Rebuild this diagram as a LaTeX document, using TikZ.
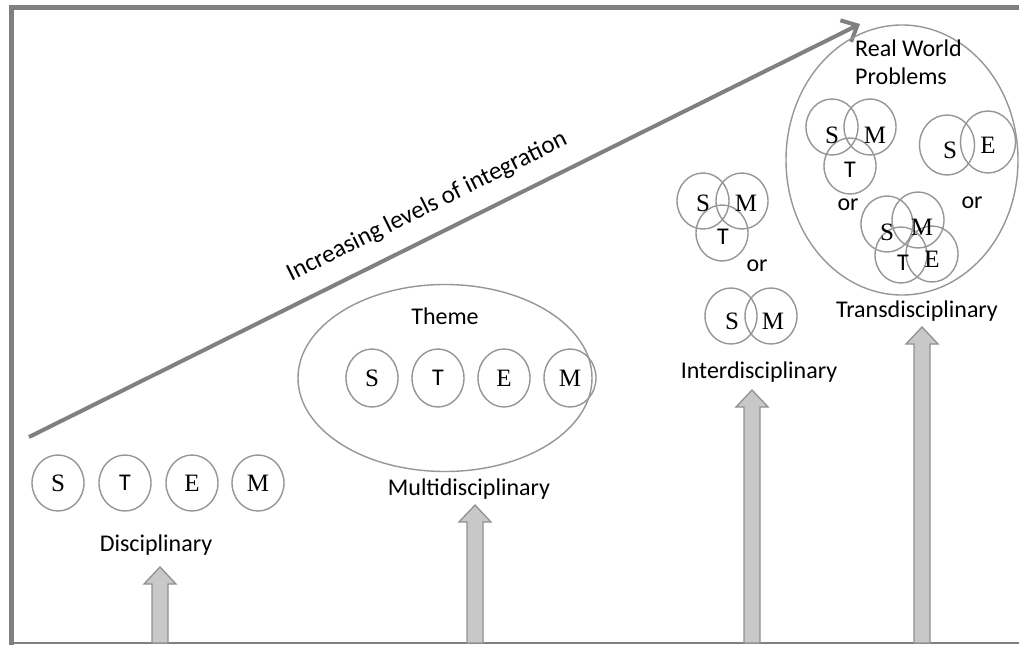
\documentclass[tikz,border=0pt]{standalone}
\usepackage{fontspec}
\setmainfont{Carlito}
\newfontfamily\tnr{Liberation Serif}
\usetikzlibrary{arrows.meta,shapes.geometric}
\definecolor{framegray}{RGB}{128,128,128}
\definecolor{ringgray}{RGB}{150,150,150}
\definecolor{arrowfill}{RGB}{200,200,200}
\definecolor{arrowedge}{RGB}{145,145,145}
\tikzset{
  ring/.style={draw=ringgray, line width=1.4pt, ellipse, inner sep=0pt,
    minimum width=52pt, minimum height=56pt},
  bigring/.style={draw=ringgray, line width=1.4pt, ellipse, inner sep=0pt},
  letter/.style={font=\fontsize{25}{25}\selectfont\tnr, inner sep=0pt},
  sletter/.style={font=\fontsize{24}{24}\selectfont, inner sep=0pt},
  caption/.style={font=\fontsize{24}{28}\selectfont, inner sep=0pt},
  blockarrow/.style={fill=arrowfill, draw=arrowedge, line width=1.3pt, line join=miter},
}
% upward block arrow: centre x, tip y, base y
\newcommand{\uparrowblock}[3]{%
  \draw[blockarrow] (#1-8,#3) -- (#1-8,#2+17) -- (#1-16,#2+17) -- (#1,#2)
    -- (#1+16,#2+17) -- (#1+8,#2+17) -- (#1+8,#3) -- cycle;}
\begin{document}
\begin{tikzpicture}[x=1pt,y=-1pt]
\useasboundingbox (0,0) rectangle (1019,645);
\fill[white] (0,0) rectangle (1019,645);

% frame
\draw[framegray, line width=5pt] (11.5,645) -- (11.5,7.5) -- (1019,7.5);
\draw[framegray, line width=1.6pt] (14,643.2) -- (1019,643.2);

% block arrows from the bottom edge
\uparrowblock{160}{567}{643}
\uparrowblock{475}{505}{643}
\uparrowblock{752}{390}{643}
\uparrowblock{922}{327}{643}

% rising arrow
\coordinate (rise0) at (29,437);
\coordinate (rise1) at (860,24);
\draw[framegray, line width=4pt, -{Straight Barb[length=13pt,width=24pt,line width=4pt]}] (rise0) -- (rise1);
\node[caption, rotate=26.4, font=\fontsize{25}{28}\selectfont] (risetxt) at (427,207) {Increasing levels of integration};

% disciplinary
\node[ring] (dS) at (58,483) {};
\node[ring] (dT) at (125,483) {};
\node[ring] (dE) at (192,483) {};
\node[ring] (dM) at (258,483) {};
\node[letter] (dSl) at (dS) {S};
\node[sletter] (dTl) at (dT) {T};
\node[letter] (dEl) at (dE) {E};
\node[letter] (dMl) at (dM) {M};
\node[caption] (disc) at (156,545) {Disciplinary};

% multidisciplinary
\node[bigring, minimum width=294pt, minimum height=187pt] (theme) at (445,378) {};
\node[caption] (themetxt) at (445,316) {Theme};
\node[ring, minimum height=58pt] (mS) at (372,378) {};
\node[ring, minimum height=58pt] (mT) at (438,378) {};
\node[ring, minimum height=58pt] (mE) at (504,378) {};
\node[ring, minimum height=58pt] (mM) at (570,378) {};
\node[letter] (mSl) at (mS) {S};
\node[sletter] (mTl) at (mT) {T};
\node[letter] (mEl) at (mE) {E};
\node[letter] (mMl) at (mM) {M};
\node[caption] (multi) at (469,489) {Multidisciplinary};

% interdisciplinary
\node[ring] (iS) at (703,201) {};
\node[ring] (iM) at (742,201) {};
\node[ring] (iT) at (722,233) {};
\node[letter] (iSl) at (703,203) {S};
\node[letter] (iMl) at (746,203) {M};
\node[sletter] (iTl) at (723,237) {T};
\node[caption] (ior) at (757,266) {or};
\node[ring] (jS) at (731,316) {};
\node[ring] (jM) at (771,316) {};
\node[letter] (jSl) at (732,321) {S};
\node[letter] (jMl) at (773,321) {M};
\node[caption] (inter) at (759,372) {Interdisciplinary};

% transdisciplinary
\node[bigring, minimum width=232pt, minimum height=270pt] (real) at (902,160) {};
\node[caption, align=left, anchor=north west] (realtxt) at (855,40) {Real World\\Problems};
\node[ring] (tS) at (832,127) {};
\node[ring] (tM) at (870,127) {};
\node[ring] (tT) at (850,166) {};
\node[letter] (tSl) at (832,135) {S};
\node[letter] (tMl) at (875,135) {M};
\node[sletter] (tTl) at (850,170) {T};
\node[ring, minimum width=55pt, minimum height=60pt] (uS) at (947,145) {};
\node[ring, minimum width=55pt, minimum height=62pt] (uE) at (988,142) {};
\node[letter] (uSl) at (950,150) {S};
\node[letter] (uEl) at (988,145) {E};
\node[caption] (tor1) at (848,205) {or};
\node[caption] (tor2) at (972,203) {or};
\node[ring] (vS) at (887,224) {};
\node[ring] (vM) at (918,220) {};
\node[ring] (vT) at (901,255) {};
\node[ring] (vE) at (932,254) {};
\node[letter] (vSl) at (887,232) {S};
\node[letter] (vMl) at (922,227) {M};
\node[sletter] (vTl) at (903,263) {T};
\node[letter] (vEl) at (932,259) {E};
\node[caption] (trans) at (917,311) {Transdisciplinary};
\end{tikzpicture}
\end{document}
